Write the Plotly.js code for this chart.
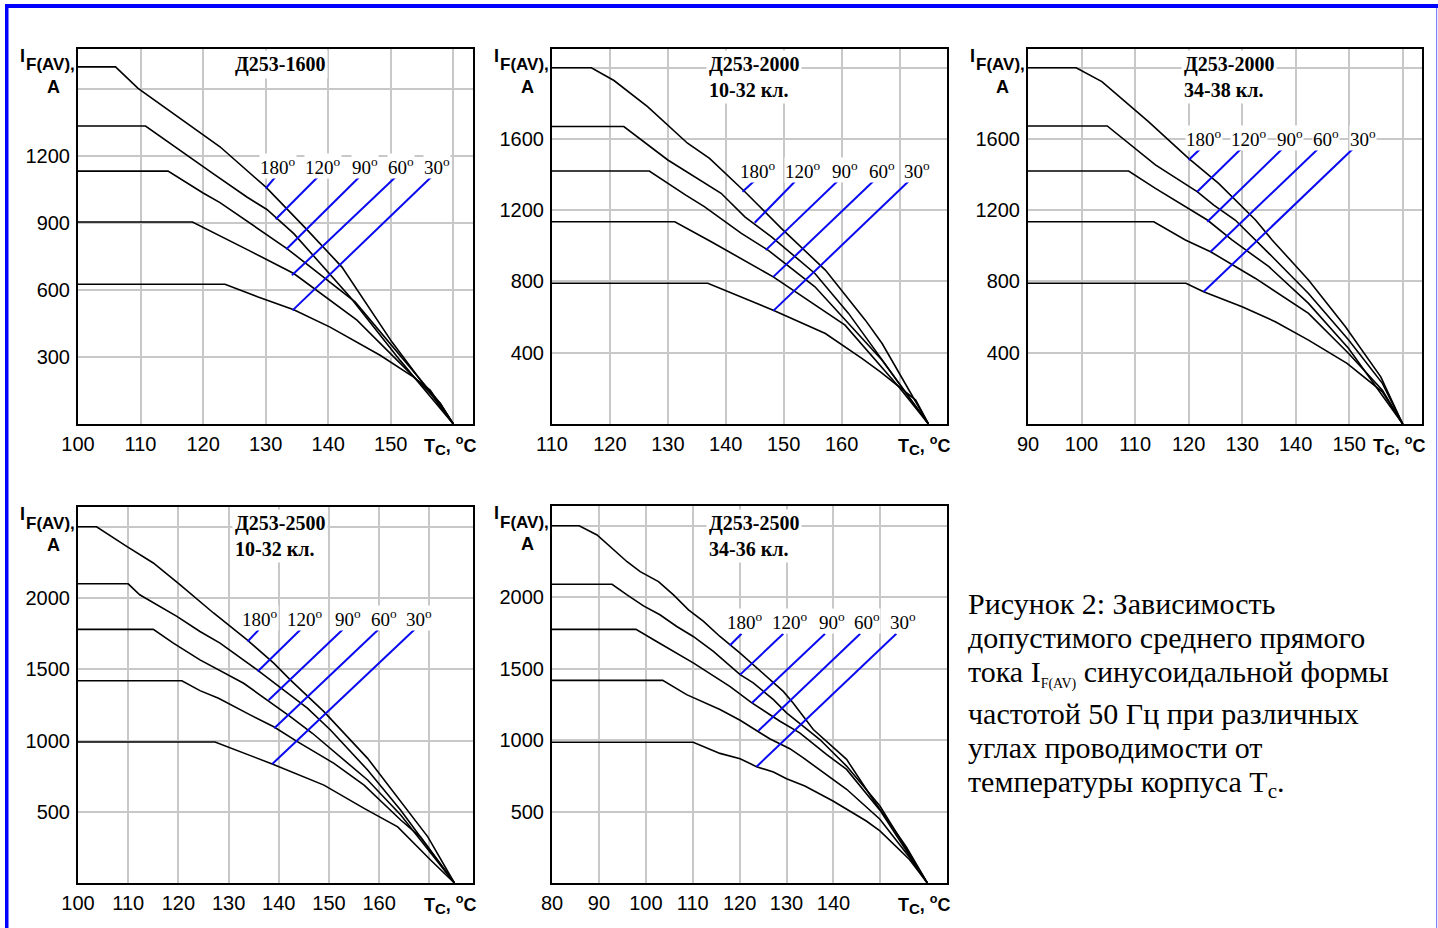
<!DOCTYPE html>
<html>
<head>
<meta charset="utf-8">
<script src="https://cdn.plot.ly/plotly-3.0.1.min.js"></script>
<style>
html,body{margin:0;padding:0;background:#fff;}
#chart{width:1438px;height:928px;}
</style>
</head>
<body>
<div id="chart"></div>
<script>
// ---------------- DATA ----------------
const angleLabels = ['180', '120', '90', '60', '30'];

// Д253-1600
const tc1600_180 = [100, 106, 109.6, 122.7, 130, 136.6, 142.2, 150.2, 160];
const if1600_180 = [1600, 1600, 1504, 1242, 1062, 871, 703, 367, 0];
const tc1600_120 = [100, 110.8, 121.6, 127, 130.2, 134.5, 143.5, 151.5, 160];
const if1600_120 = [1335, 1335, 1122, 1017, 961, 853, 569, 285, 0];
const tc1600_90 = [100, 114.4, 120, 122.7, 133.4, 144.3, 157.9, 160];
const if1600_90 = [1133, 1133, 1035, 992, 786, 547, 93, 0];
const tc1600_60 = [100, 118.3, 127.3, 134.5, 144.6, 157.9, 160];
const if1600_60 = [905, 905, 778, 674, 465, 93, 0];
const tc1600_30 = [100, 123.5, 128.8, 134.5, 140.3, 148.3, 153.6, 156.3, 160];
const if1600_30 = [626, 626, 569, 512, 434, 308, 211, 152, 0];
const lead1600_T = [[131.8, 130.0], [138.45, 131.6], [145.1, 133.3], [150.9, 134.2], [156.6, 134.3]];
const lead1600_I = [[1115, 1055], [1110, 917], [1110, 783], [1110, 666], [1110, 509]];

// Д253-2000 10-32 кл.
const tc2000a_180 = [110, 116.8, 120.7, 126.5, 133.4, 137.2, 143.3, 149.6, 157.2, 164.1, 167, 175];
const if2000a_180 = [2000, 2000, 1928, 1782, 1576, 1491, 1304, 1098, 864, 583, 452, 0];
const tc2000a_120 = [110, 122.4, 130, 139.2, 143.3, 147.9, 155.4, 161.2, 175];
const if2000a_120 = [1670, 1670, 1482, 1295, 1163, 1051, 845, 621, 0];
const tc2000a_90 = [110, 126.8, 133.1, 136.3, 142.7, 147.3, 155.4, 167, 175];
const if2000a_90 = [1420, 1420, 1285, 1220, 1070, 976, 770, 358, 0];
const tc2000a_60 = [110, 131.2, 137.5, 148.2, 160.6, 169.9, 175];
const if2000a_60 = [1135, 1135, 1023, 826, 555, 208, 0];
const tc2000a_30 = [110, 136.9, 148.2, 157.2, 163.5, 166.7, 172.8, 175];
const if2000a_30 = [790, 790, 639, 508, 368, 293, 134, 0];
const lead2000a_T = [[145.1, 142.9], [152.2, 145.0], [159.5, 146.9], [165.7, 148.2], [171.8, 148.2]];
const lead2000a_I = [[1370, 1304], [1370, 1130], [1370, 976], [1370, 826], [1370, 635]];

// Д253-2000 34-38 кл.
const tc2000b_180 = [90, 99, 103.8, 112.5, 120, 125.6, 132.5, 135.6, 142.4, 149.3, 155.9, 160];
const if2000b_180 = [2000, 2000, 1922, 1697, 1491, 1351, 1145, 1033, 808, 546, 265, 0];
const tc2000b_120 = [90, 104.8, 113.8, 121.6, 124.7, 128.7, 135, 142.4, 149.9, 156.2, 160];
const if2000b_120 = [1673, 1673, 1454, 1304, 1229, 1145, 958, 733, 471, 228, 0];
const tc2000b_90 = [90, 108.8, 113.8, 120, 123.5, 128.1, 135, 142.4, 149.9, 160];
const if2000b_90 = [1420, 1420, 1323, 1211, 1145, 1033, 883, 677, 424, 0];
const tc2000b_60 = [90, 113.5, 119.4, 124.1, 132.5, 142.4, 149.9, 156.2, 160];
const if2000b_60 = [1135, 1135, 1033, 967, 817, 621, 396, 190, 0];
const tc2000b_30 = [90, 119.5, 122.8, 130, 136.2, 142.4, 149.6, 156.2, 160];
const if2000b_30 = [790, 790, 742, 658, 574, 471, 340, 181, 0];
const lead2000b_T = [[122.5, 120.0], [130.1, 121.6], [137.8, 123.5], [144.5, 124.1], [151.0, 122.8]];
const lead2000b_I = [[1553, 1482], [1553, 1304], [1553, 1135], [1553, 967], [1553, 742]];

// Д253-2500 10-32 кл.
const tc2500a_180 = [100, 103.7, 109.7, 115, 120.3, 127, 133.7, 139, 142.3, 149, 157.7, 164.3, 169.7, 175];
const if2500a_180 = [2500, 2500, 2363, 2246, 2094, 1895, 1707, 1543, 1426, 1203, 875, 570, 324, 0];
const tc2500a_120 = [100, 110, 112.3, 119.7, 124.3, 128.3, 135.7, 141.7, 145.7, 150.3, 157.7, 164.3, 175];
const if2500a_120 = [2100, 2100, 2023, 1871, 1765, 1684, 1496, 1332, 1227, 1074, 793, 510, 0];
const tc2500a_90 = [100, 115, 119, 124.3, 133, 137.7, 142.3, 146.7, 157.7, 164.3, 175];
const if2500a_90 = [1780, 1780, 1684, 1566, 1402, 1285, 1168, 1051, 723, 477, 0];
const tc2500a_60 = [100, 120.7, 124.3, 128, 134.3, 139, 143.7, 151, 157, 164.3, 168.3, 175];
const if2500a_60 = [1420, 1420, 1350, 1297, 1180, 1097, 992, 840, 687, 442, 320, 0];
const tc2500a_30 = [100, 127.3, 138.7, 149, 157, 163.7, 170.3, 175];
const if2500a_30 = [990, 990, 835, 687, 524, 394, 160, 0];
const lead2500a_T = [[136, 133.8], [144.3, 135.8], [152.7, 138], [159.8, 139.1], [167, 138.7]];
const lead2500a_I = [[1777, 1695], [1777, 1484], [1777, 1285], [1777, 1086], [1777, 835]];

// Д253-2500 34-36 кл.
const tc2500b_180 = [80, 85.8, 89.6, 92.4, 96, 98.8, 102.7, 105.9, 109.1, 112.3, 115.8, 120.1, 123.6, 129.3, 131.4, 135.7, 142.8, 148.4, 155.5, 160];
const if2500b_180 = [2500, 2500, 2435, 2353, 2248, 2179, 2109, 2016, 1911, 1830, 1725, 1609, 1505, 1341, 1260, 1074, 865, 586, 255, 0];
const tc2500b_120 = [80, 92.8, 96, 99.5, 103, 106.6, 110.1, 114.4, 120.1, 122.9, 127.2, 130, 137.1, 142.8, 149.9, 155.5, 160];
const if2500b_120 = [2090, 2090, 2016, 1939, 1877, 1795, 1725, 1620, 1458, 1400, 1283, 1191, 1004, 818, 539, 245, 0];
const tc2500b_90 = [80, 97.9, 102.3, 106.6, 110.1, 117.9, 122.6, 128.6, 132.8, 138.5, 142.8, 149.9, 155.5, 160];
const if2500b_90 = [1775, 1775, 1690, 1604, 1540, 1376, 1260, 1132, 1051, 900, 795, 510, 230, 0];
const tc2500b_60 = [80, 103.6, 108.7, 115.8, 120.1, 124, 126.4, 130.7, 133.5, 142.8, 149.9, 156.2, 160];
const if2500b_60 = [1418, 1418, 1318, 1214, 1139, 1062, 1009, 940, 877, 656, 446, 180, 0];
const tc2500b_30 = [80, 110.1, 115.8, 120.1, 123.6, 127.2, 130, 133.9, 139.9, 142.8, 147, 149.9, 156.2, 160];
const if2500b_30 = [985, 985, 907, 870, 814, 776, 730, 679, 574, 516, 434, 365, 165, 0];
const lead2500b_T = [[120.4, 117.9], [129.3, 120.1], [138.2, 122.6], [145.7, 124], [153.4, 123.6]];
const lead2500b_I = [[1744, 1662], [1744, 1458], [1744, 1260], [1744, 1065], [1744, 814]];

// tick values / labels
const xt1600 = [100, 110, 120, 130, 140, 150, 160];
const xl1600 = ['100', '110', '120', '130', '140', '150', ''];
const yt1600 = [300, 600, 900, 1200, 1500];
const yl1600 = ['300', '600', '900', '1200', ''];
const xt2000a = [110, 120, 130, 140, 150, 160, 170];
const xl2000a = ['110', '120', '130', '140', '150', '160', ''];
const xt2000b = [90, 100, 110, 120, 130, 140, 150, 160];
const xl2000b = ['90', '100', '110', '120', '130', '140', '150', ''];
const yt2000 = [400, 800, 1200, 1600, 2000];
const yl2000 = ['400', '800', '1200', '1600', ''];
const xt2500a = [100, 110, 120, 130, 140, 150, 160, 170];
const xl2500a = ['100', '110', '120', '130', '140', '150', '160', ''];
const xt2500b = [80, 90, 100, 110, 120, 130, 140, 150];
const xl2500b = ['80', '90', '100', '110', '120', '130', '140', ''];
const yt2500 = [500, 1000, 1500, 2000, 2500];
const yl2500 = ['500', '1000', '1500', '2000', ''];

const titles = [
  'Д253-1600',
  'Д253-2000<br>10-32 кл.',
  'Д253-2000<br>34-38 кл.',
  'Д253-2500<br>10-32 кл.',
  'Д253-2500<br>34-36 кл.'
];
const caption = [
  'Рисунок 2: Зависимость',
  'допустимого среднего прямого',
  'тока I<sub><span style="font-size:14px">F(AV)</span></sub> синусоидальной формы',
  'частотой 50 Гц при различных',
  'углах проводимости от',
  'температуры корпуса T<sub>c</sub>.'
];

// ---------------- LAYOUT / BUILD ----------------
const W = 1438, H = 928;
const PX = x => x / W;
const PY = y => 1 - y / H;

const charts = [
  { T: [tc1600_180, tc1600_120, tc1600_90, tc1600_60, tc1600_30],
    I: [if1600_180, if1600_120, if1600_90, if1600_60, if1600_30],
    LT: lead1600_T, LI: lead1600_I, labT: [132, 139.2, 145.9, 151.7, 157.4], labI: 1155,
    box: {l: 78, r: 473, t: 49, b: 424}, xr: [100, 163.15], yr: [0, 1680],
    xt: xt1600, xl: xl1600, yt: yt1600, yl: yl1600, titleX: 232, titleY: 65 },
  { T: [tc2000a_180, tc2000a_120, tc2000a_90, tc2000a_60, tc2000a_30],
    I: [if2000a_180, if2000a_120, if2000a_90, if2000a_60, if2000a_30],
    LT: lead2000a_T, LI: lead2000a_I, labT: [145.6, 153.4, 160.6, 166.9, 173.1], labI: 1426,
    box: {l: 552, r: 947, t: 49, b: 424}, xr: [110, 178.2], yr: [0, 2105],
    xt: xt2000a, xl: xl2000a, yt: yt2000, yl: yl2000, titleX: 706, titleY: 77 },
  { T: [tc2000b_180, tc2000b_120, tc2000b_90, tc2000b_60, tc2000b_30],
    I: [if2000b_180, if2000b_120, if2000b_90, if2000b_60, if2000b_30],
    LT: lead2000b_T, LI: lead2000b_I, labT: [122.8, 131.2, 139.0, 145.7, 152.5], labI: 1604,
    box: {l: 1028, r: 1422, t: 49, b: 424}, xr: [90, 163.6], yr: [0, 2105],
    xt: xt2000b, xl: xl2000b, yt: yt2000, yl: yl2000, titleX: 1181, titleY: 77 },
  { T: [tc2500a_180, tc2500a_120, tc2500a_90, tc2500a_60, tc2500a_30],
    I: [if2500a_180, if2500a_120, if2500a_90, if2500a_60, if2500a_30],
    LT: lead2500a_T, LI: lead2500a_I, labT: [136.3, 145.3, 153.7, 160.9, 168], labI: 1860,
    box: {l: 78, r: 473, t: 507, b: 883}, xr: [100, 178.7], yr: [0, 2639],
    xt: xt2500a, xl: xl2500a, yt: yt2500, yl: yl2500, titleX: 232, titleY: 536 },
  { T: [tc2500b_180, tc2500b_120, tc2500b_90, tc2500b_60, tc2500b_30],
    I: [if2500b_180, if2500b_120, if2500b_90, if2500b_60, if2500b_30],
    LT: lead2500b_T, LI: lead2500b_I, labT: [121.1, 130.7, 139.6, 147.2, 154.8], labI: 1835,
    box: {l: 552, r: 947, t: 506, b: 883}, xr: [80, 164.2], yr: [0, 2638],
    xt: xt2500b, xl: xl2500b, yt: yt2500, yl: yl2500, titleX: 706, titleY: 536 }
];

const SANS = 'Liberation Sans, Arial, Helvetica, sans-serif';
const SERIF = 'Liberation Serif, Times New Roman, serif';

const traces = [];
const annotations = [];
const layout = {
  width: W, height: H,
  margin: {l: 0, r: 0, t: 0, b: 0},
  paper_bgcolor: '#ffffff', plot_bgcolor: '#ffffff',
  showlegend: false,
  shapes: [
    {type: 'rect', xref: 'paper', yref: 'paper', x0: PX(5), x1: PX(1438), y0: PY(8), y1: PY(4), fillcolor: '#0000ff', line: {width: 0}, layer: 'above'},
    {type: 'rect', xref: 'paper', yref: 'paper', x0: PX(5), x1: PX(8.5), y0: PY(928), y1: PY(4), fillcolor: '#0000ff', line: {width: 0}, layer: 'above'},
    {type: 'rect', xref: 'paper', yref: 'paper', x0: PX(1436), x1: PX(1437.2), y0: PY(928), y1: PY(8), fillcolor: '#8080ff', line: {width: 0}, layer: 'above'}
  ],
  annotations: annotations
};

charts.forEach((c, k) => {
  const n = k === 0 ? '' : String(k + 1);
  const xa = 'x' + n, ya = 'y' + n;
  const b = c.box;
  layout['xaxis' + n] = {
    domain: [PX(b.l), PX(b.r)], range: c.xr, anchor: ya,
    tickmode: 'array', tickvals: c.xt, ticktext: c.xl,
    showgrid: true, gridcolor: '#c8c8c8', gridwidth: 2,
    showline: true, mirror: true, linecolor: '#000', linewidth: 2,
    zeroline: false, ticks: '', ticklabelstandoff: 1,
    tickfont: {family: SANS, size: 20, color: '#000'}, fixedrange: true
  };
  layout['yaxis' + n] = {
    domain: [PY(b.b), PY(b.t)], range: c.yr, anchor: xa,
    tickmode: 'array', tickvals: c.yt, ticktext: c.yl,
    showgrid: true, gridcolor: '#c8c8c8', gridwidth: 2,
    showline: true, mirror: true, linecolor: '#000', linewidth: 2,
    zeroline: false, ticks: '', ticklabelstandoff: 2,
    tickfont: {family: SANS, size: 20, color: '#000'}, fixedrange: true
  };
  for (let j = 0; j < 5; j++) {
    traces.push({x: c.T[j], y: c.I[j], xaxis: xa, yaxis: ya, type: 'scatter', mode: 'lines',
      line: {color: '#000', width: 1.6}, hoverinfo: 'skip', cliponaxis: false});
    traces.push({x: c.LT[j], y: c.LI[j], xaxis: xa, yaxis: ya, type: 'scatter', mode: 'lines',
      line: {color: '#0a0af0', width: 2}, hoverinfo: 'skip'});
    annotations.push({xref: xa, yref: ya, x: c.labT[j], y: c.labI, text: angleLabels[j] + '<sup>o</sup>',
      showarrow: false, xanchor: 'center', yanchor: 'middle', bgcolor: '#fff', borderpad: 0,
      font: {family: SERIF, size: 19, color: '#000'}});
  }
  // title
  annotations.push({xref: 'paper', yref: 'paper', x: PX(c.titleX), y: PY(c.titleY), text: '<b>' + titles[k] + '</b>',
    showarrow: false, xanchor: 'left', yanchor: 'middle', align: 'left', bgcolor: '#fff', borderpad: 2,
    font: {family: SERIF, size: 20, color: '#000'}});
  // y-axis label
  annotations.push({xref: 'paper', yref: 'paper', x: PX(b.l - 60), y: PY(b.t + 7), text: '<b>I</b>',
    showarrow: false, xanchor: 'left', yanchor: 'middle', font: {family: SANS, size: 18, color: '#000'}});
  annotations.push({xref: 'paper', yref: 'paper', x: PX(b.l - 54), y: PY(b.t + 16), text: '<b>F(AV),</b>',
    showarrow: false, xanchor: 'left', yanchor: 'middle', font: {family: SANS, size: 17, color: '#000'}});
  annotations.push({xref: 'paper', yref: 'paper', x: PX(b.l - 25), y: PY(b.t + 38), text: '<b>A</b>',
    showarrow: false, xanchor: 'center', yanchor: 'middle', font: {family: SANS, size: 18, color: '#000'}});
  // x-axis label
  annotations.push({xref: 'paper', yref: 'paper', x: PX(b.r + 6), y: PY(b.b + 21),
    text: '<b>T<sub><span style="font-size:15px">C</span></sub>, <sup>o</sup>C</b>',
    showarrow: false, xanchor: 'right', yanchor: 'middle', font: {family: SANS, size: 18, color: '#000'}});
});

// caption
const capY = [585, 619, 653, 695, 729, 763];
caption.forEach((t, i) => {
  annotations.push({xref: 'paper', yref: 'paper', x: PX(966), y: PY(capY[i]), text: t,
    showarrow: false, xanchor: 'left', yanchor: 'top', align: 'left',
    font: {family: SERIF, size: 30, color: '#000'}});
});

Plotly.newPlot('chart', traces, layout, {staticPlot: true, displayModeBar: false});
</script>
</body>
</html>
